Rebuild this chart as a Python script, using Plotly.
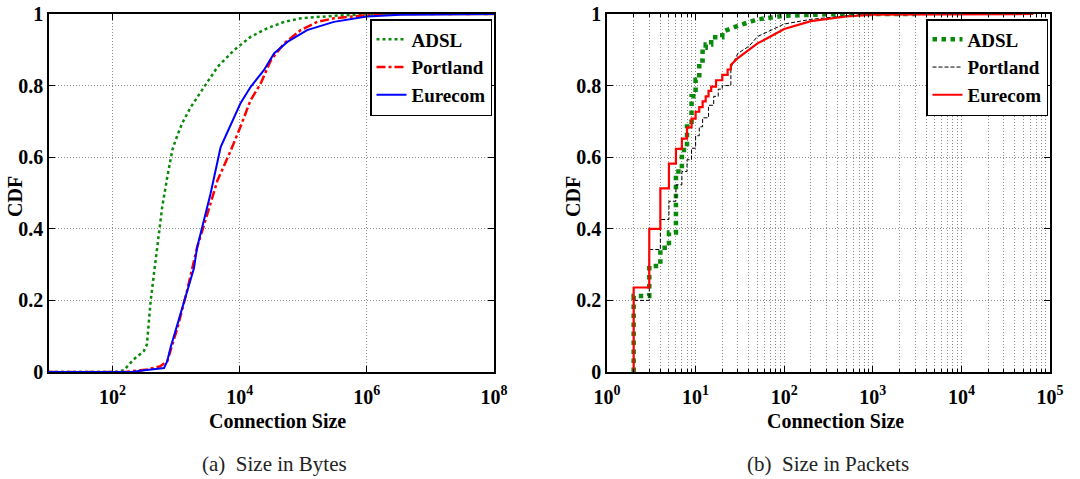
import plotly.graph_objects as go

# ---------------- Data: (a) size in bytes (log10 of bytes, CDF) ----------------
bytes_adsl_log = [1.0, 2.05, 2.18, 2.33, 2.49, 2.54, 2.60, 2.67, 2.73, 2.78, 2.86, 2.94, 2.99, 3.09,
                  3.23, 3.44, 3.65, 3.91, 4.17, 4.43, 4.70, 4.96, 5.48, 6.0, 6.5, 8.0]
bytes_adsl_cdf = [0, 0, 0.005, 0.035, 0.058, 0.077, 0.20, 0.30, 0.375, 0.46, 0.544, 0.62, 0.647, 0.693,
                  0.74, 0.796, 0.852, 0.899, 0.936, 0.96, 0.978, 0.988, 0.995, 0.999, 1.0, 1.0]

bytes_port_log = [1.0, 2.2, 2.54, 2.75, 2.86, 2.91, 3.02, 3.17, 3.33, 3.49, 3.65, 3.86, 4.01, 4.17,
                  4.33, 4.49, 4.70, 4.96, 5.22, 5.48, 6.0, 6.53, 8.0]
bytes_port_cdf = [0, 0, 0.007, 0.016, 0.03, 0.058, 0.123, 0.226, 0.348, 0.441, 0.535, 0.619, 0.684, 0.759,
                  0.806, 0.871, 0.918, 0.955, 0.978, 0.988, 0.997, 1.0, 1.0]

bytes_eur_log = [1.0, 2.3, 2.5, 2.81, 2.86, 2.91, 3.02, 3.17, 3.28, 3.33, 3.44, 3.54, 3.70, 3.86,
                 4.01, 4.17, 4.38, 4.54, 4.75, 5.06, 5.48, 6.0, 6.53, 8.0]
bytes_eur_cdf = [0, 0, 0.005, 0.011, 0.03, 0.067, 0.133, 0.226, 0.29, 0.348, 0.422, 0.497, 0.628, 0.693,
                 0.75, 0.796, 0.843, 0.89, 0.922, 0.955, 0.978, 0.993, 0.998, 1.0]

# ---------------- Data: (b) size in packets ----------------
adsl_pk_x = [2, 3, 4, 5, 6, 7, 8, 9, 10, 11, 12, 13, 15, 20, 30, 50, 100, 300, 1000, 3000]
adsl_pk_y = [0.212, 0.296, 0.347, 0.39, 0.56, 0.62, 0.686, 0.77, 0.816, 0.87, 0.906, 0.915, 0.935,
             0.95, 0.967, 0.985, 0.995, 0.999, 1.0, 1.0]

port_pk_x = [2, 3, 4, 5, 6, 7, 8, 9, 10, 11, 12, 14, 16, 18, 20, 25, 30, 40, 50, 70, 100, 200, 500,
             1000, 3000]
port_pk_y = [0.20, 0.342, 0.426, 0.477, 0.523, 0.56, 0.593, 0.625, 0.66, 0.685, 0.71, 0.745, 0.77,
             0.79, 0.80, 0.85, 0.89, 0.91, 0.937, 0.955, 0.972, 0.985, 0.995, 1.0, 1.0]

eur_pk_x = [2, 3, 4, 5, 6, 7, 8, 9, 10, 11, 12, 13, 14, 15, 17, 20, 23, 25, 30, 40, 50, 70, 100,
            200, 500, 1000, 10000, 65000]
eur_pk_y = [0.236, 0.40, 0.513, 0.582, 0.623, 0.652, 0.683, 0.708, 0.727, 0.74, 0.756, 0.77, 0.785,
            0.797, 0.815, 0.83, 0.845, 0.858, 0.877, 0.90, 0.918, 0.937, 0.958, 0.98, 0.993, 0.998,
            1.0, 1.0]

series_names = ["ADSL", "Portland", "Eurecom"]
x_tick_exp_a = [2, 4, 6, 8]
x_tick_exp_b = [0, 1, 2, 3, 4, 5]
y_ticks = [0, 0.2, 0.4, 0.6, 0.8, 1]


def stepify(xs, ys, limit=25):
    """Empirical CDF as steps at integer packet counts, smooth in the dense tail."""
    px, py = [xs[0]], [0.0]
    prev = 0.0
    for x, y in zip(xs, ys):
        if x <= limit:
            px += [x, x]
            py += [prev, y]
        else:
            px.append(x)
            py.append(y)
        prev = y
    return px, py


def pow_labels(exps):
    return [f"10<sup>{e}</sup>" for e in exps]


FONT = "Liberation Serif, Times New Roman, serif"
GREEN = "#0a8a0a"

fig = go.Figure()

# (a) bytes
fig.add_trace(go.Scatter(x=[10 ** v for v in bytes_adsl_log], y=bytes_adsl_cdf, mode="lines",
                         name=series_names[0], line=dict(color=GREEN, width=2.5, dash="dot"),
                         xaxis="x", yaxis="y", legend="legend"))
fig.add_trace(go.Scatter(x=[10 ** v for v in bytes_port_log], y=bytes_port_cdf, mode="lines",
                         name=series_names[1], line=dict(color="#ff0000", width=2.5, dash="dashdot"),
                         xaxis="x", yaxis="y", legend="legend"))
fig.add_trace(go.Scatter(x=[10 ** v for v in bytes_eur_log], y=bytes_eur_cdf, mode="lines",
                         name=series_names[2], line=dict(color="#0000ff", width=2),
                         xaxis="x", yaxis="y", legend="legend"))

# (b) packets
ax, ay = stepify(adsl_pk_x, adsl_pk_y)
fig.add_trace(go.Scatter(x=ax, y=ay, mode="lines", name=series_names[0],
                         line=dict(color=GREEN, width=4.5, dash="dot"),
                         xaxis="x2", yaxis="y2", legend="legend2"))
px_, py_ = stepify(port_pk_x, port_pk_y)
fig.add_trace(go.Scatter(x=px_, y=py_, mode="lines", name=series_names[1],
                         line=dict(color="black", width=1, dash="4px,2px"),
                         xaxis="x2", yaxis="y2", legend="legend2"))
ex, ey = stepify(eur_pk_x, eur_pk_y)
fig.add_trace(go.Scatter(x=ex, y=ey, mode="lines", name=series_names[2],
                         line=dict(color="#ff0000", width=2.2),
                         xaxis="x2", yaxis="y2", legend="legend2"))

W, H = 1080, 479
tickfont = dict(family=FONT, size=20, color="black", weight="bold")
GRID = "#8c8c8c"
GDASH = "1px,2px"
common = dict(showline=True, linecolor="black", linewidth=1.5, mirror="allticks", ticks="inside",
              ticklen=6, tickcolor="black", showgrid=True, gridcolor=GRID, griddash=GDASH,
              gridwidth=1, zeroline=False, tickfont=tickfont, automargin=False)

ytop = 1 - 14 / H
ybot = 1 - 372 / H

fig.update_layout(
    width=W, height=H, margin=dict(l=0, r=0, t=0, b=0, autoexpand=False),
    plot_bgcolor="white", paper_bgcolor="white",
    xaxis=dict(common, type="log", domain=[49 / W, 494 / W], range=[1, 8],
               tickvals=[10 ** e for e in x_tick_exp_a], ticktext=pow_labels(x_tick_exp_a),
               ticklabelstandoff=6, anchor="y"),
    yaxis=dict(common, domain=[ybot, ytop], range=[0, 1], tickvals=y_ticks, anchor="x",
               ticklabelstandoff=0),
    xaxis2=dict(common, type="log", domain=[607 / W, 1050 / W], range=[0, 5],
                tickvals=[10 ** e for e in x_tick_exp_b], ticktext=pow_labels(x_tick_exp_b),
                ticklabelstandoff=6, anchor="y2",
                minor=dict(ticks="inside", ticklen=3, tickcolor="black", showgrid=True,
                           gridcolor=GRID, griddash=GDASH, gridwidth=1, dtick="D1")),
    yaxis2=dict(common, domain=[ybot, ytop], range=[0, 1], tickvals=y_ticks, anchor="x2",
                ticklabelstandoff=0),
    legend=dict(x=492 / W, xanchor="right", y=1 - 19 / H, yanchor="top", bgcolor="white",
                bordercolor="black", borderwidth=1.5,
                font=dict(family=FONT, size=19, color="black", weight="bold")),
    legend2=dict(x=1048 / W, xanchor="right", y=1 - 19 / H, yanchor="top", bgcolor="white",
                 bordercolor="black", borderwidth=1.5,
                 font=dict(family=FONT, size=19, color="black", weight="bold")),
    showlegend=True,
)

label_font = dict(family=FONT, size=20, color="black", weight="bold")
cap_font = dict(family=FONT, size=21, color="#222222")
annots = [
    dict(text="CDF", x=15 / W, y=1 - 197 / H, textangle=-90, font=label_font),
    dict(text="CDF", x=573 / W, y=1 - 197 / H, textangle=-90, font=label_font),
    dict(text="Connection Size", x=277 / W, y=1 - 421 / H, font=label_font),
    dict(text="Connection Size", x=835 / W, y=1 - 421 / H, font=label_font),
    dict(text="(a)  Size in Bytes", x=274 / W, y=1 - 464 / H, font=cap_font),
    dict(text="(b)  Size in Packets", x=828 / W, y=1 - 464 / H, font=cap_font),
]
for a in annots:
    fig.add_annotation(xref="paper", yref="paper", showarrow=False, xanchor="center",
                       yanchor="middle", **a)

fig.write_html("out.html", config={"displayModeBar": False},
               post_script="document.body.style.margin='0px';document.body.style.overflow='hidden';")
